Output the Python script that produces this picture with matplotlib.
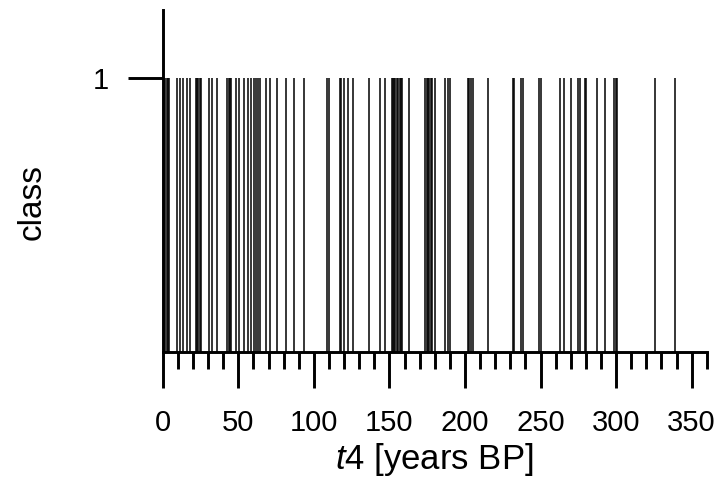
import numpy as np
import matplotlib
matplotlib.use("Agg")
import matplotlib.pyplot as plt
from matplotlib.ticker import MultipleLocator

plt.rcParams['font.family'] = ['Liberation Sans', 'DejaVu Sans']
plt.rcParams['mathtext.fontset'] = 'custom'
plt.rcParams['mathtext.it'] = 'Liberation Sans:italic'
plt.rcParams['mathtext.rm'] = 'Liberation Sans'

# event times t4 [years BP], each one drawn as a class-1 stick
t4_events = [
    0.0, 0.5, 1.5, 2.5, 3.3, 4.2, 9.3, 11.7, 13.5, 16.1, 17.9,
    22.0, 22.8, 23.6, 24.4, 25.5, 30.4, 32.5, 35.8,
    42.6, 43.6, 44.6, 45.3, 48.3, 50.5, 53.9, 56.1, 58.6, 60.3, 61.9,
    63.3, 64.2, 68.4, 71.0, 75.7, 81.8, 87.0, 93.7,
    109.0, 110.0, 117.0, 117.8, 120.0, 122.5, 126.2, 136.8, 143.9, 147.0,
    151.5, 152.3, 153.2, 154.0, 155.0, 155.8, 156.7, 157.5, 158.4, 162.7,
    173.4, 174.6, 175.5, 176.5, 177.4, 178.4, 180.5, 186.5, 188.6, 189.8,
    202.0, 203.0, 204.0, 205.0, 215.5, 231.8, 232.6, 237.2, 238.4,
    249.2, 250.5, 263.0, 265.3, 270.0, 275.0, 276.0, 279.2, 280.2,
    287.3, 293.0, 298.8, 299.8, 300.6, 325.8, 338.7,
]
event_class = [1] * len(t4_events)

x_major = [0, 50, 100, 150, 200, 250, 300, 350]
y_ticks = [1]

fig = plt.figure(figsize=(7.21, 4.94), dpi=100)
ax = fig.add_axes([0.2257, 0.2874, 0.7545, 0.6924])

ax.vlines(t4_events, 0, event_class, color="black", linewidth=1.1)

ax.set_xlim(0, 360)
ax.set_ylim(0, 1.25)

for side in ("top", "right"):
    ax.spines[side].set_visible(False)
for side in ("left", "bottom"):
    ax.spines[side].set_linewidth(2.1)

ax.xaxis.set_major_locator(MultipleLocator(50))
ax.xaxis.set_minor_locator(MultipleLocator(10))
ax.set_xticks(x_major)
ax.set_yticks(y_ticks)

ax.tick_params(axis="x", which="major", length=26, width=2.1, pad=15,
               labelsize=21, direction="out")
ax.tick_params(axis="x", which="minor", length=12, width=2.1, direction="out")
ax.tick_params(axis="y", which="major", length=25, width=2.1, pad=14,
               labelsize=21, direction="out")

ax.set_xlabel(r"$t$4 [years BP]", fontsize=25, labelpad=3)
ax.set_ylabel("class", fontsize=24)
ax.yaxis.set_label_coords(-0.212, 0.44)

fig.savefig("out.png", dpi=100)
